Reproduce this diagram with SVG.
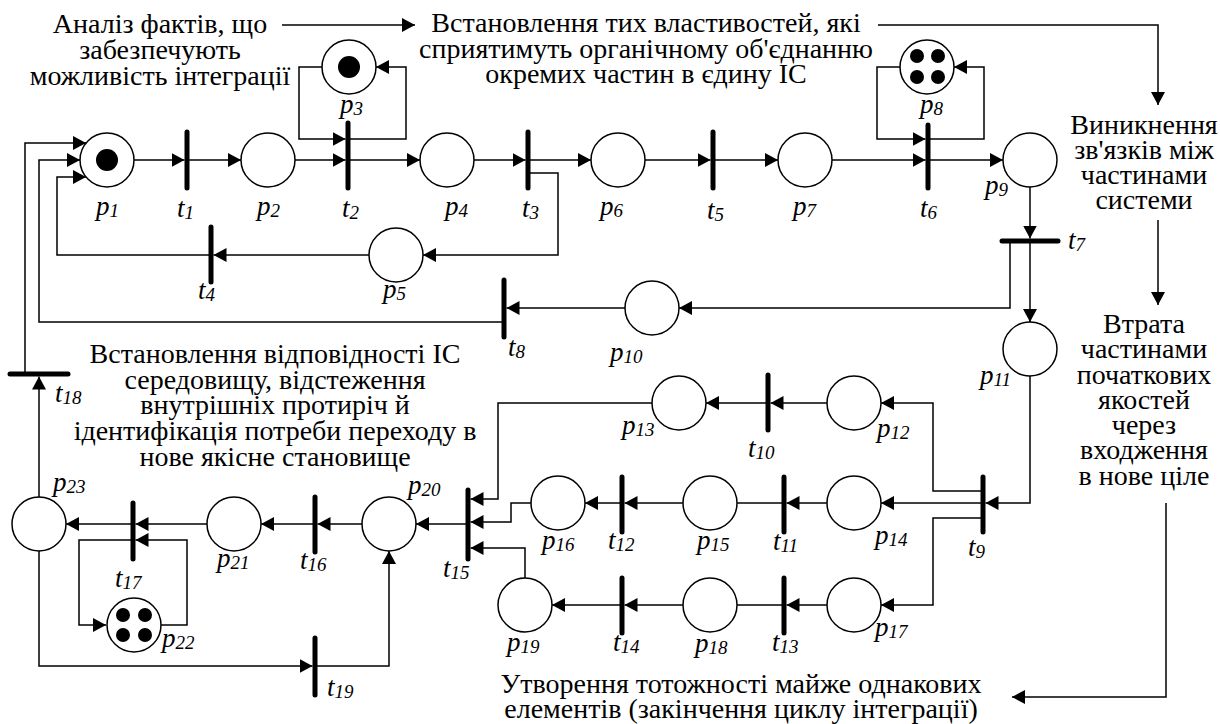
<svg xmlns="http://www.w3.org/2000/svg" width="1220" height="724" viewBox="0 0 1220 724">
<defs>
<marker id="ah" markerUnits="userSpaceOnUse" viewBox="0 0 13 14" refX="13" refY="7" markerWidth="13" markerHeight="14" orient="auto"><path d="M0,0 L13,7 L0,14 z" fill="#000"/></marker>
</defs>
<style>
.arc{fill:none;stroke:#000;stroke-width:1.5;marker-end:url(#ah)}
.arcn{fill:none;stroke:#000;stroke-width:1.5}
.pl{fill:#fff;stroke:#000;stroke-width:1.5}
.tk{fill:#000}
.tr{stroke:#000;stroke-width:5;stroke-linecap:round}
.lb{font-style:italic;font-size:27px;fill:#000}
.sb{font-size:19px}
.tx{font-size:28px;fill:#000;text-anchor:middle}
</style>
<rect width="1220" height="724" fill="#fff"/>
<g id="connectors">
<path class="arc" d="M134,160 H184.5"/>
<path class="arc" d="M187,160 H241"/>
<path class="arc" d="M295,160 H345.5"/>
<path class="arc" d="M322,67 H299 V139 H345.5"/>
<path class="arc" d="M348,139 H406 V67 H376"/>
<path class="arc" d="M348,160 H420"/>
<path class="arc" d="M474,160 H525.5"/>
<path class="arc" d="M528,160 H591"/>
<path class="arc" d="M528,173 H558 V255 H423"/>
<path class="arc" d="M369,255 H213.5"/>
<path class="arc" d="M211,255 H57 V177 H86"/>
<path class="arc" d="M645,160 H710.5"/>
<path class="arc" d="M713,160 H778"/>
<path class="arc" d="M832,160 H925.5"/>
<path class="arc" d="M900,67 H877 V139 H925.5"/>
<path class="arc" d="M928,139 H984 V67 H954"/>
<path class="arc" d="M928,160 H1003"/>
<path class="arc" d="M1030,187 V238.5"/>
<path class="arc" d="M1030,241 V322"/>
<path class="arc" d="M1010,241 V308 H679"/>
<path class="arc" d="M625,308 H506.5"/>
<path class="arc" d="M504,322 H39 V160 H80"/>
<path class="arc" d="M25,374 V143 H86"/>
<path class="arc" d="M1030,376 V503 H985.5"/>
<path class="arc" d="M983,491 H933 V403 H881"/>
<path class="arc" d="M983,503 H881"/>
<path class="arc" d="M983,518 H933 V605 H881"/>
<path class="arc" d="M827,403 H770.5"/>
<path class="arc" d="M768,403 H706"/>
<path class="arc" d="M652,403 H498 V499 H470.5"/>
<path class="arc" d="M827,503 H786.5"/>
<path class="arcn" d="M784,503 H737"/>
<path class="arc" d="M683,503 H624.5"/>
<path class="arc" d="M622,503 H585"/>
<path class="arc" d="M531,503 H511 V522 H470.5"/>
<path class="arc" d="M827,605 H786.5"/>
<path class="arcn" d="M784,605 H737"/>
<path class="arc" d="M683,605 H624.5"/>
<path class="arc" d="M622,605 H552"/>
<path class="arc" d="M525,578 V548 H470.5"/>
<path class="arc" d="M468,524 H416"/>
<path class="arc" d="M362,524 H317.5"/>
<path class="arc" d="M315,524 H261"/>
<path class="arc" d="M207,524 H135.5"/>
<path class="arc" d="M133,524 H66"/>
<path class="arc" d="M160,625 H187 V540 H135.5"/>
<path class="arc" d="M133,540 H79 V625 H106"/>
<path class="arc" d="M39,497 V376.5"/>
<path class="arc" d="M39,551 V666 H312.5"/>
<path class="arc" d="M315,666 H389 V551"/>
<path class="arc" d="M282,25 H415"/>
<path class="arc" d="M878,25 H1158 V105"/>
<path class="arc" d="M1158,220 V305"/>
<path class="arc" d="M1166,503 V697 H1012"/>
</g>
<g font-family="'Liberation Serif', 'Times New Roman', serif">
<g id="p1"><circle class="pl" cx="107" cy="160" r="27"/><circle class="tk" cx="107" cy="160" r="11"/><text class="lb" x="96" y="215">p<tspan class="sb" dy="2">1</tspan></text></g>
<g id="p2"><circle class="pl" cx="268" cy="160" r="27"/><text class="lb" x="257" y="215">p<tspan class="sb" dy="2">2</tspan></text></g>
<g id="p3"><circle class="pl" cx="349" cy="67" r="27"/><circle class="tk" cx="349" cy="67" r="11"/><text class="lb" x="340" y="113">p<tspan class="sb" dy="2">3</tspan></text></g>
<g id="p4"><circle class="pl" cx="447" cy="160" r="27"/><text class="lb" x="445" y="215">p<tspan class="sb" dy="2">4</tspan></text></g>
<g id="p5"><circle class="pl" cx="396" cy="255" r="27"/><text class="lb" x="383" y="298">p<tspan class="sb" dy="2">5</tspan></text></g>
<g id="p6"><circle class="pl" cx="618" cy="160" r="27"/><text class="lb" x="600" y="215">p<tspan class="sb" dy="2">6</tspan></text></g>
<g id="p7"><circle class="pl" cx="805" cy="160" r="27"/><text class="lb" x="793" y="215">p<tspan class="sb" dy="2">7</tspan></text></g>
<g id="p8"><circle class="pl" cx="927" cy="67" r="27"/><circle class="tk" cx="917" cy="56" r="7"/><circle class="tk" cx="938" cy="56" r="7"/><circle class="tk" cx="917" cy="77" r="7"/><circle class="tk" cx="938" cy="77" r="7"/><text class="lb" x="920" y="113">p<tspan class="sb" dy="2">8</tspan></text></g>
<g id="p9"><circle class="pl" cx="1030" cy="160" r="27"/><text class="lb" x="985" y="194">p<tspan class="sb" dy="2">9</tspan></text></g>
<g id="p10"><circle class="pl" cx="652" cy="308" r="27"/><text class="lb" x="610" y="361">p<tspan class="sb" dy="2">10</tspan></text></g>
<g id="p11"><circle class="pl" cx="1030" cy="349" r="27"/><text class="lb" x="980" y="384">p<tspan class="sb" dy="2">11</tspan></text></g>
<g id="p12"><circle class="pl" cx="854" cy="403" r="27"/><text class="lb" x="877" y="437">p<tspan class="sb" dy="2">12</tspan></text></g>
<g id="p13"><circle class="pl" cx="679" cy="403" r="27"/><text class="lb" x="622" y="434">p<tspan class="sb" dy="2">13</tspan></text></g>
<g id="p14"><circle class="pl" cx="854" cy="503" r="27"/><text class="lb" x="875" y="544">p<tspan class="sb" dy="2">14</tspan></text></g>
<g id="p15"><circle class="pl" cx="710" cy="503" r="27"/><text class="lb" x="697" y="549">p<tspan class="sb" dy="2">15</tspan></text></g>
<g id="p16"><circle class="pl" cx="558" cy="503" r="27"/><text class="lb" x="542" y="549">p<tspan class="sb" dy="2">16</tspan></text></g>
<g id="p17"><circle class="pl" cx="854" cy="605" r="27"/><text class="lb" x="875" y="636">p<tspan class="sb" dy="2">17</tspan></text></g>
<g id="p18"><circle class="pl" cx="710" cy="605" r="27"/><text class="lb" x="695" y="652">p<tspan class="sb" dy="2">18</tspan></text></g>
<g id="p19"><circle class="pl" cx="525" cy="605" r="27"/><text class="lb" x="507" y="651">p<tspan class="sb" dy="2">19</tspan></text></g>
<g id="p20"><circle class="pl" cx="389" cy="524" r="27"/><text class="lb" x="408" y="494">p<tspan class="sb" dy="2">20</tspan></text></g>
<g id="p21"><circle class="pl" cx="234" cy="524" r="27"/><text class="lb" x="217" y="567">p<tspan class="sb" dy="2">21</tspan></text></g>
<g id="p22"><circle class="pl" cx="134" cy="625" r="27"/><circle class="tk" cx="123" cy="615" r="7"/><circle class="tk" cx="145" cy="615" r="7"/><circle class="tk" cx="123" cy="635" r="7"/><circle class="tk" cx="145" cy="635" r="7"/><text class="lb" x="162" y="647">p<tspan class="sb" dy="2">22</tspan></text></g>
<g id="p23"><circle class="pl" cx="39" cy="524" r="27"/><text class="lb" x="53" y="491">p<tspan class="sb" dy="2">23</tspan></text></g>
<g id="t1"><line class="tr" x1="187" y1="132" x2="187" y2="188"/><text class="lb" x="177" y="217">t<tspan class="sb" dy="2">1</tspan></text></g>
<g id="t2"><line class="tr" x1="348" y1="123" x2="348" y2="188"/><text class="lb" x="342" y="217">t<tspan class="sb" dy="2">2</tspan></text></g>
<g id="t3"><line class="tr" x1="528" y1="132" x2="528" y2="188"/><text class="lb" x="522" y="217">t<tspan class="sb" dy="2">3</tspan></text></g>
<g id="t4"><line class="tr" x1="211" y1="227" x2="211" y2="282"/><text class="lb" x="198" y="299">t<tspan class="sb" dy="2">4</tspan></text></g>
<g id="t5"><line class="tr" x1="713" y1="132" x2="713" y2="188"/><text class="lb" x="707" y="219">t<tspan class="sb" dy="2">5</tspan></text></g>
<g id="t6"><line class="tr" x1="928" y1="125" x2="928" y2="188"/><text class="lb" x="920" y="217">t<tspan class="sb" dy="2">6</tspan></text></g>
<g id="t7"><line class="tr" x1="1002" y1="241" x2="1058" y2="241"/><text class="lb" x="1068" y="249">t<tspan class="sb" dy="2">7</tspan></text></g>
<g id="t8"><line class="tr" x1="504" y1="280" x2="504" y2="337"/><text class="lb" x="508" y="356">t<tspan class="sb" dy="2">8</tspan></text></g>
<g id="t9"><line class="tr" x1="983" y1="477" x2="983" y2="532"/><text class="lb" x="968" y="556">t<tspan class="sb" dy="2">9</tspan></text></g>
<g id="t10"><line class="tr" x1="768" y1="375" x2="768" y2="430"/><text class="lb" x="748" y="457">t<tspan class="sb" dy="2">10</tspan></text></g>
<g id="t11"><line class="tr" x1="784" y1="477" x2="784" y2="532"/><text class="lb" x="773" y="550">t<tspan class="sb" dy="2">11</tspan></text></g>
<g id="t12"><line class="tr" x1="622" y1="477" x2="622" y2="532"/><text class="lb" x="608" y="549">t<tspan class="sb" dy="2">12</tspan></text></g>
<g id="t13"><line class="tr" x1="784" y1="578" x2="784" y2="633"/><text class="lb" x="772" y="651">t<tspan class="sb" dy="2">13</tspan></text></g>
<g id="t14"><line class="tr" x1="622" y1="578" x2="622" y2="633"/><text class="lb" x="613" y="651">t<tspan class="sb" dy="2">14</tspan></text></g>
<g id="t15"><line class="tr" x1="468" y1="490" x2="468" y2="559"/><text class="lb" x="443" y="577">t<tspan class="sb" dy="2">15</tspan></text></g>
<g id="t16"><line class="tr" x1="315" y1="497" x2="315" y2="552"/><text class="lb" x="300" y="569">t<tspan class="sb" dy="2">16</tspan></text></g>
<g id="t17"><line class="tr" x1="133" y1="503" x2="133" y2="559"/><text class="lb" x="115" y="587">t<tspan class="sb" dy="2">17</tspan></text></g>
<g id="t18"><line class="tr" x1="10" y1="374" x2="68" y2="374"/><text class="lb" x="55" y="402">t<tspan class="sb" dy="2">18</tspan></text></g>
<g id="t19"><line class="tr" x1="315" y1="638" x2="315" y2="695"/><text class="lb" x="327" y="696">t<tspan class="sb" dy="2">19</tspan></text></g>
<g id="note1"><text class="tx"><tspan x="160" y="33">Аналіз фактів, що</tspan><tspan x="160" y="59">забезпечують</tspan><tspan x="160" y="85">можливість інтеграції</tspan></text></g>
<g id="note2"><text class="tx"><tspan x="646" y="32">Встановлення тих властивостей, які</tspan><tspan x="646" y="58">сприятимуть органічному об'єднанню</tspan><tspan x="646" y="83">окремих частин в єдину ІС</tspan></text></g>
<g id="note3"><text class="tx"><tspan x="1144" y="134">Виникнення</tspan><tspan x="1144" y="159">зв'язків між</tspan><tspan x="1144" y="184">частинами</tspan><tspan x="1144" y="209">системи</tspan></text></g>
<g id="note4"><text class="tx"><tspan x="1144" y="333">Втрата</tspan><tspan x="1144" y="358">частинами</tspan><tspan x="1144" y="384">початкових</tspan><tspan x="1144" y="409">якостей</tspan><tspan x="1144" y="434">через</tspan><tspan x="1144" y="459">входження</tspan><tspan x="1144" y="485">в нове ціле</tspan></text></g>
<g id="note5"><text class="tx"><tspan x="275" y="363">Встановлення відповідності ІС</tspan><tspan x="275" y="389">середовищу, відстеження</tspan><tspan x="275" y="414">внутрішніх протиріч й</tspan><tspan x="275" y="440">ідентифікація потреби переходу в</tspan><tspan x="275" y="466">нове якісне становище</tspan></text></g>
<g id="note6"><text class="tx"><tspan x="741" y="693">Утворення тотожності майже однакових</tspan><tspan x="741" y="718">елементів (закінчення циклу інтеграції)</tspan></text></g>
</g>
</svg>
